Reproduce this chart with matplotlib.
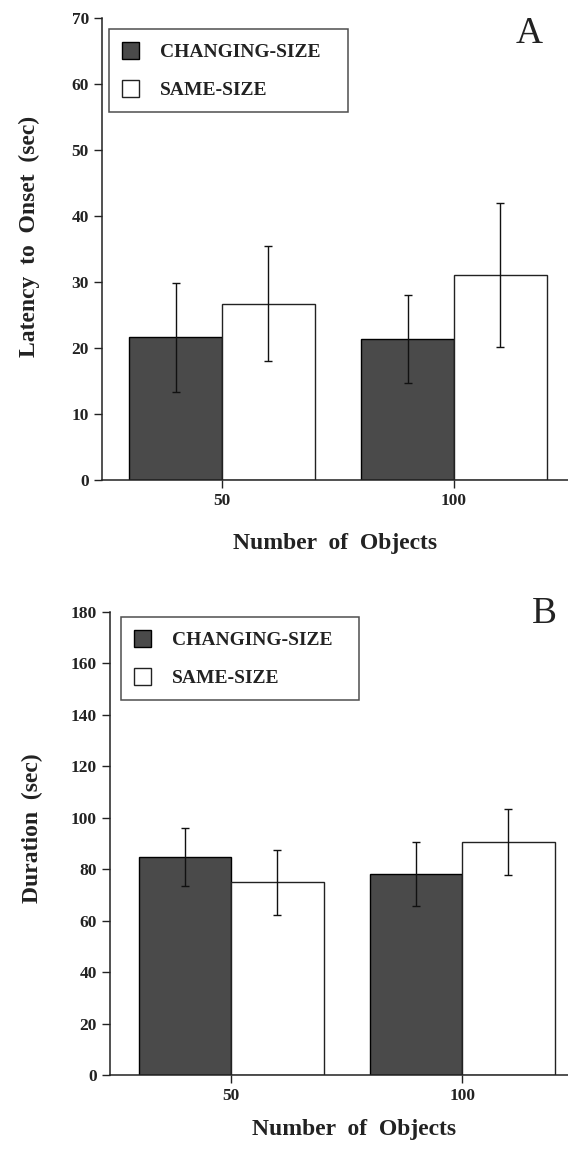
import matplotlib
matplotlib.use("Agg")
import matplotlib.pyplot as plt
import numpy as np

plt.rcParams['font.family'] = ['Liberation Serif', 'DejaVu Serif']

# data
groups = ['50', '100']
series = ['CHANGING-SIZE', 'SAME-SIZE']

latency_changing = [21.6, 21.4]
latency_same = [26.7, 31.1]
latency_changing_err = [8.2, 6.7]
latency_same_err = [8.7, 10.9]

duration_changing = [84.7, 78.1]
duration_same = [74.9, 90.6]
duration_changing_err = [11.3, 12.3]
duration_same_err = [12.6, 12.9]

dark = '#4a4a4a'
W, H = 568, 1151

fig = plt.figure(figsize=(W / 100, H / 100), dpi=100)


def panel(rect, changing, same, err_c, err_s, ymax, ystep, xleft, ylabel,
          ylabel_xy, xlabel_xy, letter, letter_xy, legend_box):
    ax = fig.add_axes(rect)
    x = np.arange(len(groups))
    w = 0.4
    ax.bar(x, changing, width=-w, align='edge', color=dark, edgecolor='black',
           linewidth=1.0, label=series[0])
    ax.bar(x, same, width=w, align='edge', color='white', edgecolor='#222222',
           linewidth=1.0, label=series[1])
    ax.errorbar(x - w / 2, changing, yerr=err_c, fmt='none', ecolor='#111111',
                elinewidth=1.0, capsize=3, capthick=1.0)
    ax.errorbar(x + w / 2, same, yerr=err_s, fmt='none', ecolor='#111111',
                elinewidth=1.0, capsize=3, capthick=1.0)
    ax.set_xlim(xleft, 1.8)
    ax.set_ylim(0, ymax)
    ax.set_yticks(np.arange(0, ymax + 1, ystep))
    ax.set_xticks(x)
    ax.set_xticklabels(groups)
    for s in ['top', 'right']:
        ax.spines[s].set_visible(False)
    for s in ['left', 'bottom']:
        ax.spines[s].set_linewidth(1.1)
        ax.spines[s].set_color('#222222')
    ax.tick_params(direction='out', length=5.5, width=1.0, pad=4,
                   labelsize=12.5, colors='#222222')
    for t in ax.get_xticklabels() + ax.get_yticklabels():
        t.set_fontweight('bold')

    fig.text(ylabel_xy[0] / W, 1 - ylabel_xy[1] / H, ylabel, rotation=90,
             ha='center', va='center', fontsize=17, fontweight='bold',
             color='#222222')
    fig.text(xlabel_xy[0] / W, 1 - xlabel_xy[1] / H, 'Number  of  Objects',
             ha='center', va='center', fontsize=17, fontweight='bold',
             color='#222222')
    fig.text(letter_xy[0] / W, 1 - letter_xy[1] / H, letter, ha='center',
             va='center', fontsize=27, color='#222222')

    x0, y0, x1, y1 = legend_box
    leg = ax.legend(loc='upper left', mode='expand',
                    bbox_to_anchor=(x0 / W, 1 - y1 / H, (x1 - x0) / W, (y1 - y0) / H),
                    bbox_transform=fig.transFigure, borderaxespad=0,
                    fancybox=False, frameon=True,
                    prop={'weight': 'bold', 'size': 14},
                    handlelength=0.88, handleheight=0.93, handletextpad=1.08,
                    labelspacing=1.0, borderpad=0.67)
    leg.get_frame().set_edgecolor('#222222')
    leg.get_frame().set_linewidth(1.1)
    for t in leg.get_texts():
        t.set_color('#222222')
    return ax


panel([102 / W, 1 - 480 / H, 537.5 / W, 462 / H],
      latency_changing, latency_same, latency_changing_err, latency_same_err,
      70, 10, -0.517, 'Latency  to  Onset  (sec)',
      (29, 236), (335, 543), 'A', (529, 34), (109, 29, 348, 112))

panel([110 / W, 1 - 1075 / H, 537 / W, 463 / H],
      duration_changing, duration_same, duration_changing_err, duration_same_err,
      180, 20, -0.524, 'Duration  (sec)',
      (32, 828), (354, 1130), 'B', (544, 614), (121, 617, 359, 703))

fig.savefig('out.png', dpi=100)
